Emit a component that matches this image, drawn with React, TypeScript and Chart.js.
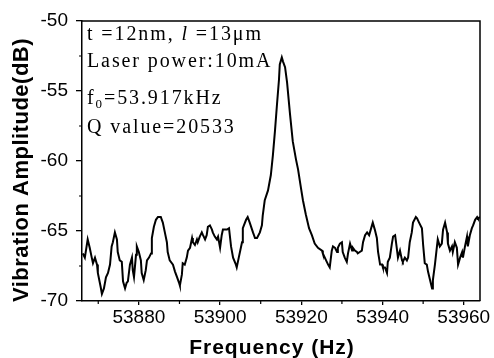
import React, { useEffect, useRef } from "react";
import { Chart, registerables } from "chart.js";

Chart.register(...registerables);

// Frequency (Hz) samples
const freq = [
  53866.2, 53866.7, 53867.4, 53867.9, 53868.4, 53868.7, 53869.2, 53869.7, 53869.9, 53870.6,
  53870.9, 53871.4, 53871.9, 53872.4, 53872.9, 53873.3, 53873.6, 53874.1, 53874.6, 53874.8,
  53875.3, 53875.8, 53876.1, 53876.6, 53877.0, 53877.3, 53877.8, 53878.3, 53878.5, 53878.8,
  53879.3, 53879.5, 53880.0, 53880.5, 53880.7, 53881.2, 53881.7, 53882.0, 53882.5, 53883.0,
  53883.2, 53883.7, 53884.2, 53884.7, 53885.4, 53885.9, 53886.4, 53886.9, 53887.1, 53887.6,
  53888.4, 53888.9, 53889.4, 53889.9, 53890.1, 53890.6, 53890.8, 53891.3, 53891.8, 53892.1,
  53892.6, 53893.1, 53893.3, 53893.8, 53894.3, 53894.5, 53895.0, 53895.5, 53895.8, 53896.3,
  53896.7, 53897.0, 53897.5, 53898.0, 53898.2, 53898.7, 53899.2, 53899.5, 53900.0, 53900.4,
  53900.7, 53901.2, 53901.7, 53902.2, 53902.7, 53903.2, 53903.9, 53904.1, 53904.6, 53905.4,
  53905.6, 53906.4, 53906.8, 53907.3, 53908.1, 53908.6, 53909.1, 53909.8, 53910.3, 53910.5,
  53911.0, 53911.8, 53912.5, 53913.0, 53913.5, 53914.0, 53914.5, 53914.7, 53915.2, 53915.5,
  53916.0, 53916.5, 53917.2, 53917.9, 53918.7, 53919.2, 53919.9, 53920.4, 53921.1, 53921.9,
  53922.6, 53923.3, 53924.1, 53925.1, 53925.3, 53926.1, 53926.6, 53927.0, 53927.5, 53927.8,
  53928.3, 53928.8, 53929.0, 53929.5, 53930.0, 53930.2, 53930.7, 53931.2, 53931.5, 53932.0,
  53932.5, 53932.7, 53933.2, 53933.7, 53933.9, 53934.4, 53934.9, 53935.2, 53935.7, 53936.2,
  53936.7, 53937.4, 53937.6, 53938.1, 53938.6, 53938.9, 53939.4, 53939.9, 53940.1, 53940.6,
  53941.1, 53941.3, 53941.8, 53942.3, 53942.6, 53943.1, 53943.5, 53943.8, 53944.3, 53944.8,
  53945.0, 53945.5, 53946.0, 53946.3, 53946.7, 53947.2, 53947.5, 53948.2, 53948.5, 53949.0,
  53949.7, 53950.0, 53950.4, 53950.9, 53951.2, 53951.7, 53952.2, 53952.4, 53952.9, 53953.4,
  53953.6, 53954.1, 53954.6, 53954.9, 53955.4, 53955.9, 53956.1, 53956.6, 53957.1, 53957.3,
  53957.8, 53958.3, 53958.6, 53959.1, 53959.6, 53959.8, 53960.3, 53960.8, 53961.0, 53961.5,
  53962.0, 53962.3, 53962.8, 53963.3, 53963.5, 53964.0,
];

// Vibration amplitude (dB) samples
const amp = [
  -66.6, -66.9, -65.6, -66.2, -66.9, -67.3, -66.9, -67.4, -68.0, -69.0,
  -69.5, -69.1, -68.3, -68.0, -67.4, -66.1, -65.8, -65.1, -65.6, -66.5,
  -67.1, -67.2, -68.6, -69.1, -68.7, -68.6, -67.4, -66.9, -67.8, -68.3,
  -66.7, -66.1, -66.5, -67.1, -68.0, -68.5, -67.8, -67.1, -66.9, -66.6,
  -65.5, -64.7, -64.2, -64.0, -64.0, -64.4, -65.1, -65.8, -66.5, -67.1,
  -67.4, -67.9, -68.3, -68.7, -68.9, -68.1, -67.3, -67.4, -66.9, -66.4,
  -66.2, -65.5, -65.8, -66.0, -65.6, -65.8, -65.4, -65.1, -65.3, -65.6,
  -65.3, -64.7, -64.6, -64.9, -65.1, -65.4, -65.6, -65.4, -66.2, -65.3,
  -64.9, -64.9, -64.9, -64.8, -66.1, -66.9, -67.4, -67.6, -66.9, -65.8,
  -64.8, -64.2, -64.0, -64.4, -65.1, -65.5, -65.5, -65.1, -64.6, -63.9,
  -62.8, -62.1, -61.0, -59.6, -57.9, -56.0, -54.2, -53.1, -52.6, -52.9,
  -53.3, -54.4, -56.6, -58.6, -59.9, -60.6, -61.9, -62.8, -63.8, -64.8,
  -65.3, -65.9, -66.2, -66.4, -66.6, -67.1, -67.4, -67.6, -66.4, -66.1,
  -66.2, -66.5, -66.2, -65.9, -65.8, -66.5, -66.9, -67.2, -66.6, -65.9,
  -66.4, -66.2, -66.4, -66.5, -66.6, -66.5, -66.4, -65.8, -65.3, -65.1,
  -65.3, -64.6, -64.4, -64.9, -65.5, -66.5, -67.4, -67.4, -67.6, -67.6,
  -68.0, -67.2, -66.9, -65.9, -65.4, -65.3, -66.2, -66.9, -66.4, -67.1,
  -67.2, -66.9, -67.1, -66.9, -65.8, -65.1, -64.4, -64.0, -64.1, -64.4,
  -64.8, -66.0, -67.3, -67.4, -67.9, -68.5, -69.1, -68.5, -67.4, -66.1,
  -65.6, -66.1, -65.9, -64.9, -64.4, -65.1, -65.9, -66.4, -66.1, -66.5,
  -65.8, -66.2, -67.4, -66.9, -66.5, -66.9, -66.1, -65.4, -66.1, -65.3,
  -64.8, -64.6, -64.2, -64.0, -64.1, -64.0,
];

const xTicks = [53880, 53900, 53920, 53940, 53960];
const xMinorTicks = [53870, 53890, 53910, 53930, 53950];
const yTicks = [-70, -65, -60, -55, -50];
const yMinorTicks = [-67.5, -62.5, -57.5, -52.5];
const xRange = [53866, 53964];
const yRange = [-70, -50];

const xTitle = "Frequency (Hz)";
const yTitle = "Vibration Amplitude(dB)";
const noteThickness = "t =12nm, ";
const noteLengthSymbol = "l";
const noteLength = " =13\u03bcm";
const noteLaser = "Laser power:10mA";
const noteFreqSymbol = "f";
const noteFreqSub = "0";
const noteFreq = "=53.917kHz";
const noteQ = "Q value=20533";

const SANS = 'Arial, "Liberation Sans", sans-serif';
const SERIF = '"Times New Roman", "Liberation Serif", serif';

type Seg = { text: string; font: string; dy?: number };

function drawSegs(ctx: CanvasRenderingContext2D, segs: Seg[], x: number, y: number, spacing: string) {
  let cx = x;
  for (const s of segs) {
    ctx.font = s.font;
    (ctx as any).letterSpacing = spacing;
    ctx.fillText(s.text, cx, y + (s.dy || 0));
    cx += ctx.measureText(s.text).width;
  }
}

const decorPlugin = {
  id: "decor",
  afterDraw(chart: any) {
    const ctx: CanvasRenderingContext2D = chart.ctx;
    const { left, top, right, bottom } = chart.chartArea;
    const xs = chart.scales.x;
    const ys = chart.scales.y;
    ctx.save();
    ctx.strokeStyle = "#000";
    ctx.lineWidth = 1.5;
    ctx.beginPath();
    ctx.moveTo(left, top);
    ctx.lineTo(right, top);
    ctx.lineTo(right, bottom);
    ctx.stroke();
    // minor ticks
    ctx.lineWidth = 1.2;
    ctx.beginPath();
    for (const v of xMinorTicks) {
      const px = xs.getPixelForValue(v);
      ctx.moveTo(px, bottom);
      ctx.lineTo(px, bottom + 3);
    }
    for (const v of yMinorTicks) {
      const py = ys.getPixelForValue(v);
      ctx.moveTo(left, py);
      ctx.lineTo(left - 3, py);
    }
    ctx.stroke();

    ctx.fillStyle = "#000";
    ctx.textAlign = "left";
    ctx.textBaseline = "alphabetic";
    const f = `20px ${SERIF}`;
    const fi = `italic 20px ${SERIF}`;
    const fs = `13px ${SERIF}`;
    const sp = "1.9px";
    drawSegs(ctx, [
      { text: noteThickness, font: f },
      { text: noteLengthSymbol, font: fi },
      { text: noteLength, font: f },
    ], 87, 40, sp);
    drawSegs(ctx, [{ text: noteLaser, font: f }], 87, 67, sp);
    drawSegs(ctx, [
      { text: noteFreqSymbol, font: f },
      { text: noteFreqSub, font: fs, dy: 4 },
      { text: noteFreq, font: f },
    ], 87, 104, sp);
    drawSegs(ctx, [{ text: noteQ, font: f }], 87, 133, sp);

    // axis titles
    (ctx as any).letterSpacing = "1px";
    ctx.font = `bold 21px ${SANS}`;
    ctx.textAlign = "center";
    ctx.textBaseline = "alphabetic";
    ctx.fillText(xTitle, 272, 354);
    ctx.translate(28, 170);
    ctx.rotate(-Math.PI / 2);
    (ctx as any).letterSpacing = "0.5px";
    ctx.font = `bold 22px ${SANS}`;
    ctx.fillText(yTitle, 0, 0);
    ctx.restore();
  },
};

export default function App() {
  const ref = useRef<HTMLCanvasElement>(null);
  useEffect(() => {
    if (!ref.current) return;
    const chart = new Chart(ref.current, {
      type: "line",
      data: {
        datasets: [
          {
            data: freq.map((x, i) => ({ x, y: amp[i] })),
            borderColor: "#000",
            borderWidth: 2,
            pointRadius: 0,
            tension: 0,
            fill: false,
          },
        ],
      },
      options: {
        animation: false,
        responsive: false,
        devicePixelRatio: 1,
        layout: { padding: { top: 21, right: 14, bottom: 0, left: 0 } },
        plugins: { legend: { display: false }, tooltip: { enabled: false } },
        scales: {
          x: {
            type: "linear",
            min: xRange[0],
            max: xRange[1],
            afterBuildTicks: (s: any) => {
              s.ticks = xTicks.map((v) => ({ value: v }));
            },
            afterFit: (s: any) => {
              s.height = 57;
            },
            grid: { drawOnChartArea: false, tickLength: 4, color: "#000", lineWidth: 1.3 },
            border: { color: "#000", width: 1.5 },
            ticks: {
              color: "#000",
              font: { family: SANS, size: 19 },
              padding: 1,
              maxRotation: 0,
              callback: (v: any) => String(v),
            },
          },
          y: {
            type: "linear",
            min: yRange[0],
            max: yRange[1],
            afterBuildTicks: (s: any) => {
              s.ticks = yTicks.map((v) => ({ value: v }));
            },
            afterFit: (s: any) => {
              s.width = 82;
            },
            grid: { drawOnChartArea: false, tickLength: 6, color: "#000", lineWidth: 1.3 },
            border: { color: "#000", width: 1.5 },
            ticks: {
              color: "#000",
              font: { family: SANS, size: 19 },
              padding: 8,
              callback: (v: any) => String(v),
            },
          },
        },
      },
      plugins: [decorPlugin],
    });
    return () => chart.destroy();
  }, []);
  return (
    <div style={{ position: "fixed", left: 0, top: 0, width: 494, height: 358, background: "#fff" }}>
      <canvas ref={ref} width={494} height={358} />
    </div>
  );
}
